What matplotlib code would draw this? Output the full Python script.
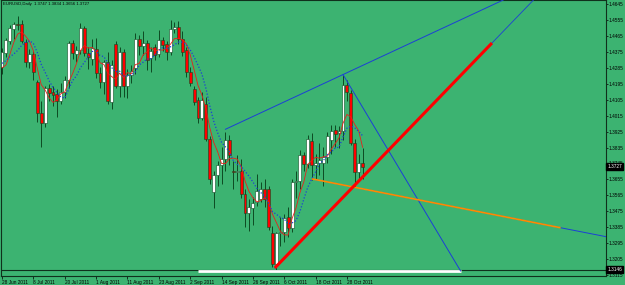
import numpy as np
import pandas as pd
import matplotlib
matplotlib.use('Agg')
import matplotlib.pyplot as plt
import matplotlib.transforms as mtransforms

plt.rcParams['font.family'] = ['Liberation Sans', 'DejaVu Sans']

# EURUSD daily bars, 28 Jun 2011 .. 3 Nov 2011 (one entry per trading day)
opens = [1.4290, 1.4370, 1.4435, 1.4505, 1.4530, 1.4530, 1.4430, 1.4318, 1.4365, 1.4205,
         1.4030, 1.3975, 1.4170, 1.4150, 1.4140, 1.4100, 1.4150, 1.4215, 1.4425, 1.4365,
         1.4385, 1.4510, 1.4370, 1.4335, 1.4390, 1.4255, 1.4205, 1.4320, 1.4090, 1.4420,
         1.4185, 1.4375, 1.4180, 1.4245, 1.4285, 1.4445, 1.4410, 1.4425, 1.4340, 1.4400,
         1.4365, 1.4440, 1.4420, 1.4375, 1.4505, 1.4515, 1.4450, 1.4385, 1.4260, 1.4165,
         1.4103, 1.4002, 1.4080, 1.3885, 1.3584, 1.3680, 1.3735, 1.3770, 1.3880, 1.3705,
         1.3697, 1.3705, 1.3570, 1.3465, 1.3495, 1.3525, 1.3545, 1.3600, 1.3600, 1.3352,
         1.3175, 1.3350, 1.3358, 1.3440, 1.3380, 1.3640, 1.3648, 1.3793, 1.3740, 1.3870,
         1.3735, 1.3750, 1.3750, 1.3780, 1.3880, 1.3935, 1.3915, 1.3930, 1.4190, 1.4145,
         1.3860, 1.3695, 1.3747]
highs = [1.4395, 1.4455, 1.4525, 1.4545, 1.4578, 1.4555, 1.4445, 1.4390, 1.4380, 1.4215,
         1.4100, 1.4185, 1.4195, 1.4185, 1.4165, 1.4200, 1.4240, 1.4438, 1.4440, 1.4410,
         1.4538, 1.4520, 1.4400, 1.4450, 1.4452, 1.4290, 1.4330, 1.4375, 1.4330, 1.4435,
         1.4400, 1.4390, 1.4280, 1.4300, 1.4480, 1.4470, 1.4495, 1.4440, 1.4400, 1.4420,
         1.4500, 1.4460, 1.4435, 1.4555, 1.4545, 1.4547, 1.4495, 1.4400, 1.4290, 1.4180,
         1.4120, 1.4150, 1.4120, 1.3900, 1.3700, 1.3760, 1.3840, 1.3920, 1.3905, 1.3760,
         1.3790, 1.3770, 1.3600, 1.3545, 1.3555, 1.3685, 1.3640, 1.3660, 1.3620, 1.3390,
         1.3360, 1.3440, 1.3460, 1.3500, 1.3655, 1.3700, 1.3820, 1.3810, 1.3905, 1.3915,
         1.3800, 1.3860, 1.3840, 1.3920, 1.3960, 1.3960, 1.3955, 1.4247, 1.4215, 1.4160,
         1.3885, 1.3800, 1.3834]
lows = [1.4250, 1.4345, 1.4420, 1.4445, 1.4500, 1.4425, 1.4290, 1.4285, 1.4215, 1.3980,
        1.3837, 1.3950, 1.4100, 1.4070, 1.4010, 1.4080, 1.4115, 1.4170, 1.4335, 1.4320,
        1.4365, 1.4350, 1.4280, 1.4300, 1.4230, 1.4170, 1.4135, 1.4080, 1.4055, 1.4170,
        1.4120, 1.4120, 1.4115, 1.4200, 1.4250, 1.4360, 1.4355, 1.4270, 1.4260, 1.4330,
        1.4345, 1.4380, 1.4330, 1.4360, 1.4480, 1.4420, 1.4350, 1.4235, 1.4180, 1.4075,
        1.3975, 1.3990, 1.3870, 1.3630, 1.3495, 1.3620, 1.3630, 1.3700, 1.3735, 1.3600,
        1.3645, 1.3550, 1.3385, 1.3365, 1.3400, 1.3505, 1.3530, 1.3500, 1.3370, 1.3160,
        1.3146, 1.3280, 1.3300, 1.3330, 1.3360, 1.3550, 1.3600, 1.3700, 1.3720, 1.3650,
        1.3655, 1.3680, 1.3620, 1.3745, 1.3800, 1.3840, 1.3830, 1.3880, 1.4100, 1.3850,
        1.3612, 1.3660, 1.3656]
closes = [1.4374, 1.4440, 1.4510, 1.4530, 1.4525, 1.4435, 1.4320, 1.4365, 1.4260, 1.4030,
          1.3975, 1.4170, 1.4145, 1.4130, 1.4100, 1.4150, 1.4215, 1.4425, 1.4370, 1.4385,
          1.4510, 1.4370, 1.4345, 1.4395, 1.4255, 1.4205, 1.4320, 1.4095, 1.4300, 1.4185,
          1.4375, 1.4185, 1.4245, 1.4265, 1.4445, 1.4410, 1.4425, 1.4330, 1.4380, 1.4360,
          1.4440, 1.4415, 1.4375, 1.4505, 1.4515, 1.4450, 1.4375, 1.4260, 1.4200, 1.4092,
          1.4002, 1.4103, 1.3885, 1.3655, 1.3680, 1.3735, 1.3770, 1.3880, 1.3795, 1.3697,
          1.3705, 1.3570, 1.3465, 1.3500, 1.3520, 1.3590, 1.3600, 1.3545, 1.3385, 1.3175,
          1.3352, 1.3360, 1.3437, 1.3380, 1.3640, 1.3648, 1.3793, 1.3740, 1.3883, 1.3735,
          1.3750, 1.3765, 1.3780, 1.3900, 1.3930, 1.3910, 1.3930, 1.4190, 1.4150, 1.3860,
          1.3695, 1.3750, 1.3727]
# closes before 28 Jun, only used to start the moving averages
prior_closes = [1.4310, 1.4340, 1.4405, 1.4360, 1.4210, 1.4190, 1.4290]

date_labels = ['28 Jun 2011', '8 Jul 2011', '20 Jul 2011', '1 Aug 2011', '11 Aug 2011',
               '23 Aug 2011', '2 Sep 2011', '14 Sep 2011', '26 Sep 2011', '6 Oct 2011',
               '18 Oct 2011', '28 Oct 2011']
date_label_bars = [0, 8, 16, 24, 32, 40, 48, 56, 64, 72, 80, 88]
price_ticks = [1.4645, 1.4555, 1.4465, 1.4375, 1.4285, 1.4195, 1.4105, 1.4015, 1.3925,
               1.3835, 1.3745, 1.3655, 1.3565, 1.3475, 1.3385, 1.3295, 1.3205, 1.3115]
header = 'EURUSD,Daily  1.3747 1.3834 1.3656 1.3727'
last_price = 1.3727
low_level = 1.3146

# drawn objects: (bar, price) anchors
top_ray_bars, top_ray_prices = [57, 87], [1.3938, 1.4247]
drop_line_bars, drop_line_prices = [87, 117], [1.4247, 1.3138]
orange_bars, orange_prices = [79.3, 142.3], [1.3657, 1.3383]
red_bars, red_prices = [69.6, 125.0], [1.3155, 1.4425]
white_bars, white_price = [50, 117], 1.3135

bg = '#3cb371'
dark = '#10301c'
wick = '#0d4a22'
blue = '#1c3fd6'

fig = plt.figure(figsize=(6.25, 2.85), dpi=100, facecolor=bg)
ax = fig.add_axes([1 / 625, 9 / 285, 605 / 625, 276 / 285], facecolor=bg)

x = np.arange(len(closes))
o, h, l, c = map(np.array, (opens, highs, lows, closes))
up = c >= o

# candles
ax.vlines(x, l, h, color=wick, lw=0.7, zorder=2)
body_low = np.minimum(o, c)
body_h = np.maximum(np.abs(c - o), 0.00025)
ax.bar(x, body_h, bottom=body_low, width=0.75, color=np.where(up, 'white', '#ff0000'),
       edgecolor=wick, linewidth=0.4, zorder=3)

# moving averages
all_closes = pd.Series(prior_closes + closes)
n0 = len(prior_closes)
ma_fast = all_closes.rolling(5).mean().iloc[n0:].values
ma_slow = all_closes.rolling(8).mean().iloc[n0:].values
ax.plot(x, ma_fast, color='#e8201a', lw=0.6, zorder=4)
ax.plot(x, ma_slow, color=blue, lw=0.9, ls=(0, (1, 1.5)), zorder=4)


def ray(bars, prices, end_bar=170):
    slope = (prices[1] - prices[0]) / (bars[1] - bars[0])
    return [bars[0], end_bar], [prices[0], prices[0] + slope * (end_bar - bars[0])]


# horizontal level and white marker
ax.axhline(low_level, color=dark, lw=0.8, zorder=5)
ax.plot(white_bars, [white_price, white_price], color='white', lw=2.0,
        solid_capstyle='butt', zorder=5)

# trendlines
ax.plot(*ray(top_ray_bars, top_ray_prices), color=blue, lw=0.7, zorder=5)
ax.plot(drop_line_bars, drop_line_prices, color=blue, lw=0.7, zorder=5)
ax.plot(*ray(orange_bars, orange_prices), color=blue, lw=0.7, zorder=5)
ax.plot(orange_bars, orange_prices, color='#ff8c00', lw=1.2, zorder=6)
ax.plot(*ray(red_bars, red_prices), color=blue, lw=0.6, zorder=5)
ax.plot(red_bars, red_prices, color='#ff0000', lw=2.2, solid_capstyle='butt', zorder=6)

ax.set_xlim(-0.26, 154.1)
ax.set_ylim(1.4668 - 276 / 1771, 1.4668)

# axes, ticks
for s in ax.spines.values():
    s.set_color(dark)
    s.set_linewidth(0.8)
ax.yaxis.tick_right()
ax.set_yticks(price_ticks)
ax.set_yticklabels([f'{p:.4f}' for p in price_ticks])
ax.tick_params(axis='y', labelsize=3.4, length=1.2, width=0.5, pad=0.8, colors='black')
ax.set_xticks(date_label_bars)
ax.set_xticklabels(date_labels)
ax.tick_params(axis='x', labelsize=3.4, length=2, width=0.5, pad=0.6, colors='black')
for t in ax.get_xticklabels():
    t.set_ha('left')

ax.text(0.004, 0.992, header, transform=ax.transAxes, va='top', ha='left',
        fontsize=3.1, color='black')

tr = mtransforms.blended_transform_factory(ax.transAxes, ax.transData)
for p in (last_price, low_level):
    ax.text(1.002, p, f'{p:.4f}', transform=tr, va='center', ha='left', fontsize=3.4,
            color='white', zorder=10, clip_on=False,
            bbox=dict(boxstyle='square,pad=0.18', fc='black', ec='black'))

fig.savefig('out.png', dpi=100, facecolor=bg)
